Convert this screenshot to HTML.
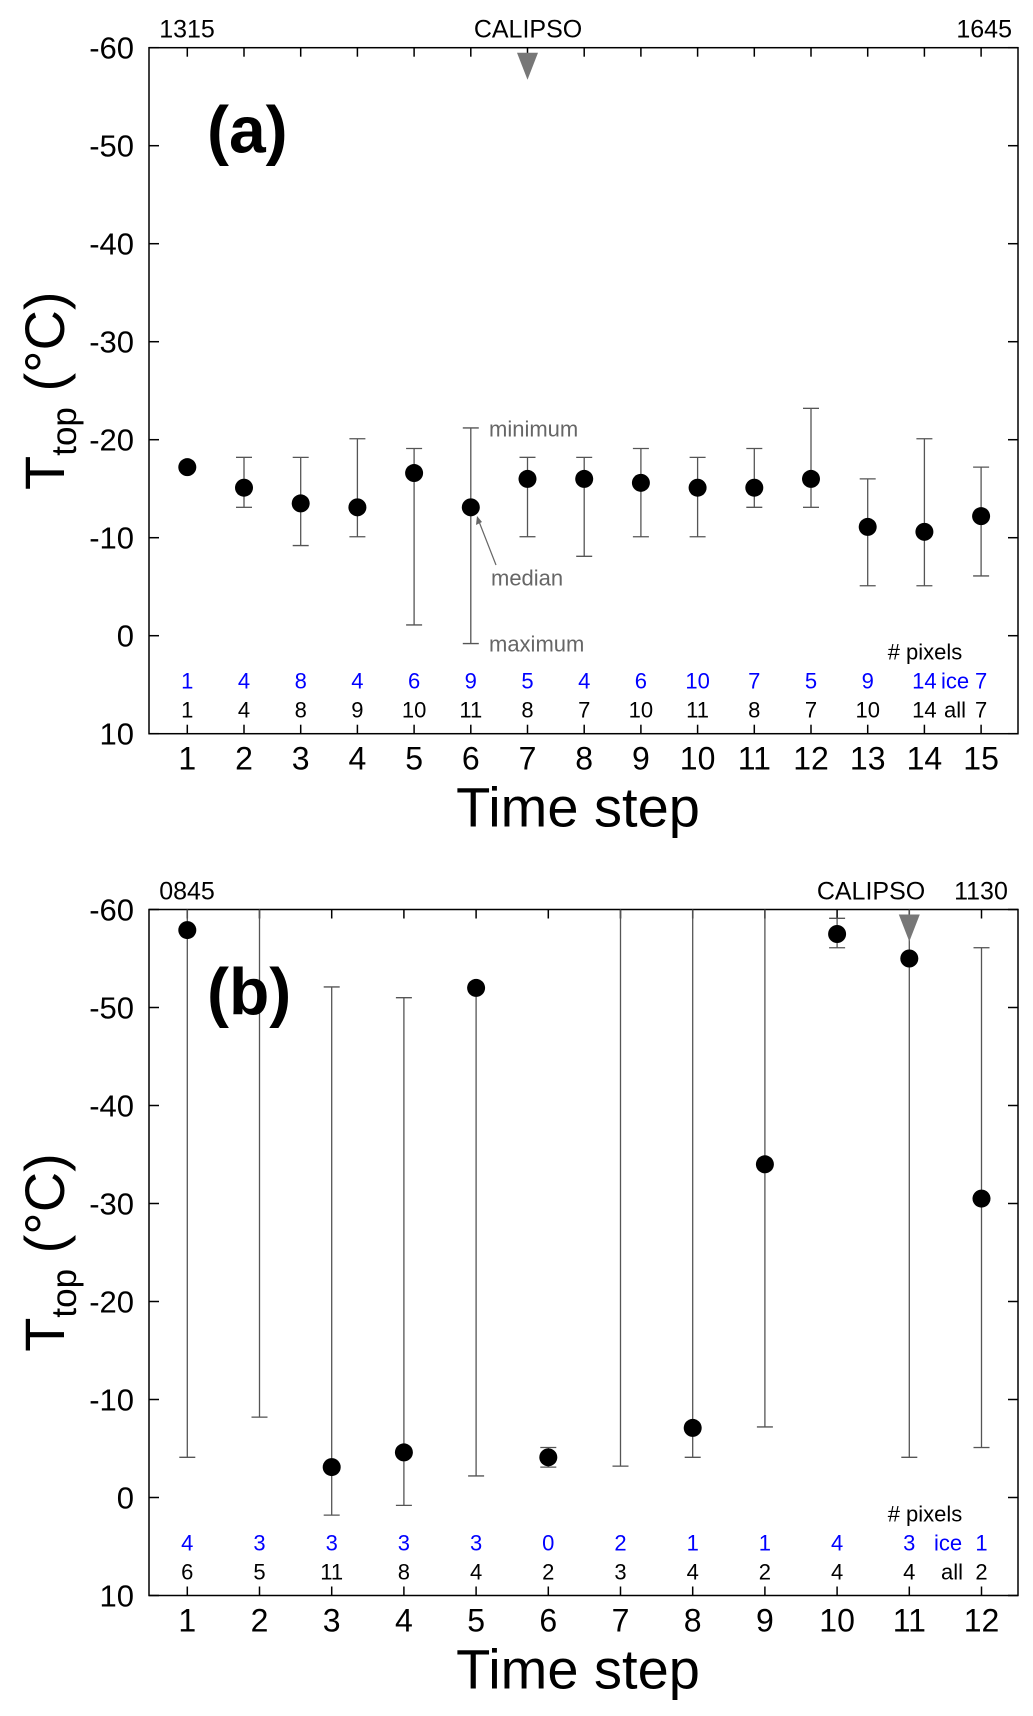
<!DOCTYPE html>
<html><head><meta charset="utf-8"><style>
html,body{margin:0;padding:0;background:#fff;}
svg{display:block;font-family:"Liberation Sans",Arial,sans-serif;}
</style></head><body>
<svg id="chart" width="1033" height="1716" viewBox="0 0 1033 1716" xmlns="http://www.w3.org/2000/svg"></svg>
<script>
// ---------- Panel (a) data ----------
const stepsA = [1,2,3,4,5,6,7,8,9,10,11,12,13,14,15];
const medianA = [-17.2,-15.1,-13.5,-13.1,-16.6,-13.1,-16.0,-16.0,-15.6,-15.1,-15.1,-16.0,-11.1,-10.6,-12.2];
const minA = [-17.2,-18.2,-18.2,-20.1,-19.1,-21.2,-18.2,-18.2,-19.1,-18.2,-19.1,-23.2,-16.0,-20.1,-17.2];
const maxA = [-17.2,-13.1,-9.2,-10.1,-1.1,0.8,-10.1,-8.1,-10.1,-10.1,-13.1,-13.1,-5.1,-5.1,-6.1];
const iceA = [1,4,8,4,6,9,5,4,6,10,7,5,9,14,7];
const allA = [1,4,8,9,10,11,8,7,10,11,8,7,10,14,7];
// ---------- Panel (b) data ----------
const stepsB = [1,2,3,4,5,6,7,8,9,10,11,12];
const medianB = [-57.9,null,-3.1,-4.6,-52.0,-4.1,null,-7.1,-34.0,-57.5,-55.0,-30.5];
const minB = [-66,-66,-52.1,-51.0,-52.0,-5.1,-66,-66,-66,-59.1,-66,-56.1];
const maxB = [-4.1,-8.2,1.8,0.8,-2.2,-3.1,-3.2,-4.1,-7.2,-56.1,-4.1,-5.1];
const iceB = [4,3,3,3,3,0,2,1,1,4,3,1];
const allB = [6,5,11,8,4,2,3,4,2,4,4,2];
const yTicks = [-60,-50,-40,-30,-20,-10,0,10];

const NS = "http://www.w3.org/2000/svg";
const svg = document.getElementById('chart');
function mk(tag, attrs, parent, text){
  const e = document.createElementNS(NS, tag);
  for (const k in attrs) e.setAttribute(k, attrs[k]);
  if (text !== undefined) e.textContent = text;
  (parent||svg).appendChild(e);
  return e;
}

function panel(cfg){
  const g = mk('g', {});
  
  
  const L=149, R=1018, T=cfg.top, B=cfg.top+686;
  const x0=187.3, dx=cfg.dx;
  const xs = s => x0 + (s-1)*dx;
  const ys = v => T + (v+60)/70*(B-T);
  const clipId = 'clip'+cfg.id;
  const defs = mk('defs', {}, g);
  const cp = mk('clipPath', {id: clipId}, defs);
  mk('rect', {x:L, y:T, width:R-L, height:B-T}, cp);

  yTicks.forEach(v=>{
    const y = ys(v);
    const t1 = mk('line', {x1:L, x2:L+10, y1:y, y2:y, stroke:'#000','stroke-width':1.5}, g);
    
    
    mk('line', {x1:R, x2:R-10, y1:y, y2:y, stroke:'#000','stroke-width':1.5}, g);
    const lb = mk('text', {x:134, y:y+11, 'text-anchor':'end','font-size':31}, g, String(v));
    
    
  });
  cfg.steps.forEach(s=>{
    const x = xs(s);
    mk('line', {x1:x, x2:x, y1:B, y2:B-9, stroke:'#000','stroke-width':1.5}, g);
    mk('line', {x1:x, x2:x, y1:T, y2:T+9, stroke:'#000','stroke-width':1.5}, g);
    const lb = mk('text', {x:x, y:B+36, 'text-anchor':'middle','font-size':32}, g, String(s));
    
    
  });
  const frame = mk('rect', {x:L, y:T, width:R-L, height:B-T, fill:'none', stroke:'#000','stroke-width':1.5}, g);
  
  

  const pg = mk('g', {'clip-path':'url(#'+clipId+')'}, g);
  cfg.steps.forEach((s,i)=>{
    const x = xs(s);
    const yt = ys(cfg.min[i]), yb = ys(cfg.max[i]);
    if (Math.abs(yb-yt) > 0.5){
      const eb = mk('line', {x1:x, x2:x, y1:yt, y2:yb, stroke:'#555','stroke-width':1.3}, pg);
      
      
      mk('line', {x1:x-8, x2:x+8, y1:yt, y2:yt, stroke:'#555','stroke-width':1.3}, pg);
      mk('line', {x1:x-8, x2:x+8, y1:yb, y2:yb, stroke:'#555','stroke-width':1.3}, pg);
    }
    if (cfg.median[i] !== null){
      const c = mk('circle', {cx:x, cy:ys(cfg.median[i]), r:9, fill:'#000'}, pg);
      
      
    }
    const bi = mk('text', {x:x, y:T+641, 'text-anchor':'middle','font-size':22, fill:'#0000ff'}, g, String(cfg.ice[i]));
    
    
    const ba = mk('text', {x:x, y:T+670, 'text-anchor':'middle','font-size':22, fill:'#000'}, g, String(cfg.all[i]));
    
    
  });
  const px = mk('text', {x:925, y:T+612, 'text-anchor':'middle','font-size':22}, g, '# pixels');
  
  
  const ic = mk('text', {x:cfg.iceX, y:T+641, 'text-anchor':'middle','font-size':22, fill:'#0000ff'}, g, 'ice');
  
  
  const al = mk('text', {x:cfg.allX, y:T+670, 'text-anchor':'middle','font-size':22}, g, 'all');
  
  

  const ts = mk('text', {x:187, y:T-10, 'text-anchor':'middle','font-size':25}, g, cfg.start);
  
  
  const te = mk('text', {x:cfg.endX, y:T-10, 'text-anchor':cfg.endAnchor,'font-size':25}, g, cfg.end);
  
  
  const cx = xs(cfg.calipso);
  const cl = mk('text', {x:cfg.calX, y:T-10, 'text-anchor':'middle','font-size':25}, g, 'CALIPSO');
  
  
  const tri = mk('polygon', {points:(cx-10.5)+','+(T+5)+' '+(cx+10.5)+','+(T+5)+' '+cx+','+(T+32), fill:'#777'}, g);
  
  

  const pl = mk('text', {x:207, y:T+105, 'font-size':66,'font-weight':'bold'}, g, cfg.label);
  
  

  const xt = mk('text', {x:578, y:B+93, 'text-anchor':'middle','font-size':56}, g, 'Time step');
  
  
  const yt = mk('text', {transform:'translate(64,'+(T+343)+') rotate(-90)', 'text-anchor':'middle','font-size':56}, g);
  
  
  mk('tspan', {}, yt, 'T');
  mk('tspan', {'font-size':35, dy:12}, yt, 'top');
  mk('tspan', {dy:-12}, yt, ' (°C)');
  return {xs, ys, g, T};
}

const pa = panel({name:'panel-a', id:'a', top:47.7, dx:56.7, steps:stepsA, median:medianA, min:minA, max:maxA,
  ice:iceA, all:allA, iceX:955, allX:955, start:'1315', end:'1645', endX:1012, endAnchor:'end',
  calipso:7, calX:528, label:'(a)'});
const pb = panel({name:'panel-b', id:'b', top:909.5, dx:72.2, steps:stepsB, median:medianB, min:minB, max:maxB,
  ice:iceB, all:allB, iceX:948, allX:952, start:'0845', end:'1130', endX:981, endAnchor:'middle',
  calipso:11, calX:871, label:'(b)'});

const ann = [['minimum',489,pa.T+389],['median',491,pa.T+538],['maximum',489,pa.T+604]];
ann.forEach(a=>{
  const t = mk('text', {x:a[1], y:a[2], 'font-size':22, fill:'#666'}, pa.g, a[0]);
  
  
});
const ar = mk('line', {x1:496, y1:565, x2:478, y2:519, stroke:'#666','stroke-width':1.2}, pa.g);


mk('polygon', {points:'477,516 476,525 482,522', fill:'#666'}, pa.g);
</script>
</body></html>
